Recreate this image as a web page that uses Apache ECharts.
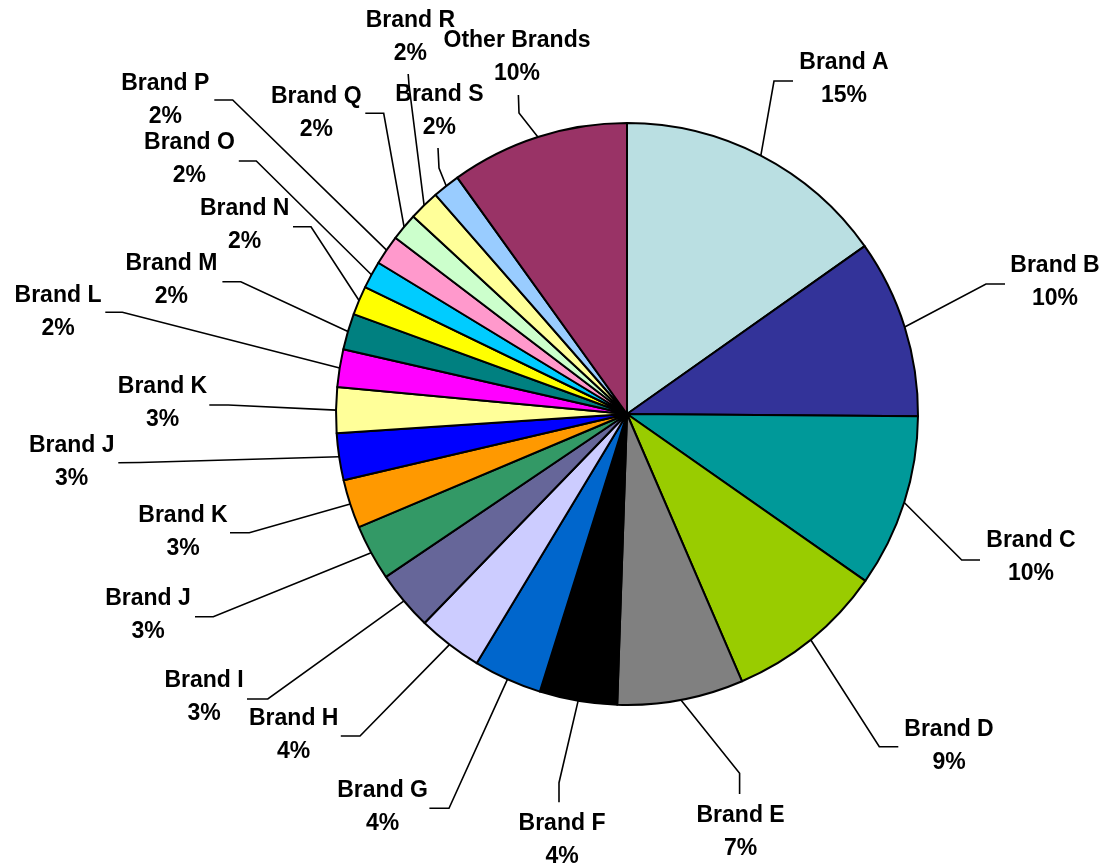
<!DOCTYPE html>
<html>
<head>
<meta charset="utf-8">
<script src="https://cdn.jsdelivr.net/npm/echarts@6/dist/echarts.min.js"></script>
<style>
  html, body { margin: 0; padding: 0; background: #ffffff; }
  #chart { width: 1103px; height: 866px; }
</style>
</head>
<body>
<div id="chart"></div>
<script>
// Market share by brand, clockwise from 12 o'clock
const brands = [
  'Brand A', 'Brand B', 'Brand C', 'Brand D', 'Brand E', 'Brand F', 'Brand G',
  'Brand H', 'Brand I', 'Brand J', 'Brand K', 'Brand J', 'Brand K', 'Brand L',
  'Brand M', 'Brand N', 'Brand O', 'Brand P', 'Brand Q', 'Brand R', 'Brand S',
  'Other Brands'
];
const shares = [
  15.2, 9.9, 9.6, 8.8, 7.0, 4.3, 3.8,
  3.6, 3.3, 3.1, 2.7, 2.6, 2.52, 2.1,
  2.0, 1.6, 1.52, 1.65, 1.52, 1.7, 1.52,
  9.9
];
const sliceColors = [
  '#BADFE2', '#333399', '#009999', '#99CC00', '#808080', '#000000', '#0066CC',
  '#CCCCFF', '#666699', '#339966', '#FF9900', '#0000FF', '#FFFF99', '#FF00FF',
  '#008080', '#FFFF00', '#00CCFF', '#FF99CC', '#CCFFCC', '#FFFF99', '#99CCFF',
  '#993366'
];

// Label placement: [text centre x, text centre y, leader elbow x, elbow y, leader end x, end y]
const labelSpots = [
  [844, 79.6, 774, 81, 793, 81],
  [1055, 282.5, 986, 284, 1005, 284],
  [1031, 557.5, 961.7, 560, 980, 560],
  [949, 745.8, 879.3, 746.7, 898.3, 746.7],
  [740.6, 831.7, 739.6, 773.3, 739.6, 794],
  [562, 839.7, 559, 782.7, 559, 802.3],
  [382.6, 806.7, 449, 808.3, 429.4, 808.3],
  [293.7, 735, 360, 736, 340.8, 736],
  [204, 697.5, 267.8, 699, 247, 699],
  [148, 615, 213.3, 616.7, 195, 616.7],
  [183, 531.7, 249.3, 532.7, 230, 532.7],
  [71.7, 461.7, 140, 462.5, 118.3, 462.7],
  [162.5, 403.3, 228.3, 405, 209.3, 405],
  [58, 311.7, 122.4, 312.3, 105.3, 312.3],
  [171.4, 280, 240.8, 281.7, 222.4, 281.7],
  [244.7, 225, 311, 226.7, 293, 226.7],
  [189.4, 159.4, 256.3, 161, 238.8, 161],
  [165.3, 100, 232.7, 100, 214.3, 100],
  [316.3, 113, 383.7, 113.3, 365.3, 113.3],
  [410.4, 36.7, 409, 85, 408.2, 74],
  [439.4, 110.9, 439, 168, 438, 148],
  [517, 56.7, 519, 113, 518.4, 95]
];

const CENTER = [627, 414];
const RADIUS = 291;

// Fallback leader start: rim point at the slice's mid-angle
function rimPoint(idx) {
  const total = shares.reduce((a, b) => a + b, 0);
  let before = 0;
  for (let i = 0; i < idx; i++) before += shares[i];
  const mid = (before + shares[idx] / 2) / total * 2 * Math.PI;
  return [CENTER[0] + RADIUS * Math.sin(mid), CENTER[1] - RADIUS * Math.cos(mid)];
}

const pieData = brands.map((name, i) => ({
  name: name,
  value: shares[i],
  itemStyle: { color: sliceColors[i] }
}));

const chart = echarts.init(document.getElementById('chart'), null, { renderer: 'canvas' });
chart.setOption({
  backgroundColor: '#ffffff',
  animation: false,
  series: [{
    type: 'pie',
    center: CENTER,
    radius: RADIUS,
    startAngle: 90,
    clockwise: true,
    avoidLabelOverlap: false,
    percentPrecision: 2,
    data: pieData,
    itemStyle: { borderColor: '#000000', borderWidth: 2 },
    emphasis: { disabled: true },
    label: {
      show: true,
      position: 'outside',
      color: '#000000',
      fontFamily: 'Arial, "Liberation Sans", sans-serif',
      fontWeight: 'bold',
      fontSize: 23,
      lineHeight: 33,
      align: 'center',
      formatter: p => p.name + '\n' + Math.round(p.percent) + '%'
    },
    labelLine: {
      show: true,
      length: 10,
      length2: 10,
      smooth: false,
      lineStyle: { color: '#000000', width: 1.6 }
    },
    labelLayout: function (p) {
      const s = labelSpots[p.dataIndex];
      const start = (p.labelLinePoints && p.labelLinePoints[0]) || rimPoint(p.dataIndex);
      return {
        x: s[0],
        y: s[1],
        align: 'center',
        verticalAlign: 'middle',
        labelLinePoints: [start, [s[2], s[3]], [s[4], s[5]]]
      };
    }
  }]
});
</script>
</body>
</html>
